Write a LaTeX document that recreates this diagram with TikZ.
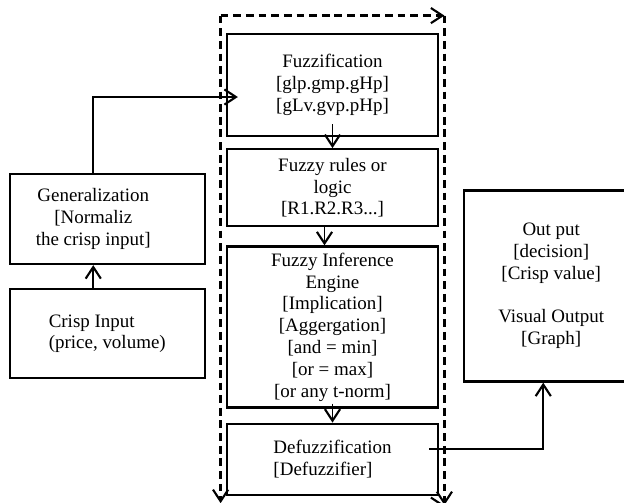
\documentclass[tikz,border=0pt]{standalone}
\usepackage{fontspec}
\setmainfont{Liberation Serif}
\usetikzlibrary{positioning,fit,arrows.meta}

\begin{document}
\begin{tikzpicture}[
    node distance=0.3cm,
    every node/.style={font=\fontsize{13.5}{15.5}\selectfont},
    block/.style={rectangle, draw, line width=1.6pt, align=center, inner sep=0pt, minimum width=5.275cm},
    sblock/.style={rectangle, draw, line width=1.6pt, align=center, inner sep=0pt, minimum width=4.875cm},
    oblock/.style={rectangle, draw, line width=1.6pt, align=center, inner sep=0pt, minimum width=4.35cm, minimum height=4.775cm},
    line/.style={draw, line width=1.3pt, -{Straight Barb[length=2.9mm,width=3.8mm,line width=1.5pt]}},
    dline/.style={draw, line width=1.7pt, dash pattern=on 5.5pt off 3.5pt, -{Straight Barb[length=2.9mm,width=3.8mm,line width=1.5pt]}}
]
\useasboundingbox (0,0) rectangle (15.6,-12.55);

% ----------------------------
% Nodes
% ----------------------------
\node[block, minimum height=2.55cm] (fuzz) at (8.3125,-2.125) {Fuzzification\\{[glp.gmp.gHp]}\\{[gLv.gvp.pHp]}};
\node[block, minimum height=1.925cm, below=0.275cm of fuzz] (rules) {Fuzzy rules or\\logic\\{[R1.R2.R3...]}};
\node[block, minimum height=4.025cm, below=0.45cm of rules] (fie) {Fuzzy Inference\\Engine\\{[Implication]}\\{[Aggergation]}\\{[and = min]}\\{[or = max]}\\{[or any t-norm]}};
\node[block, align=left, minimum height=1.775cm, below=0.35cm of fie] (defuzz) {Defuzzification\\{[Defuzzifier]}};

\node[sblock, minimum height=2.25cm, left=0.5cm of fuzz, yshift=-3.35cm] (gen)
    {\begin{tabular}{@{}c@{}}Generalization\\{[Normaliz}\\the crisp input]\end{tabular}\hspace*{0.7cm}};
\node[sblock, align=left, minimum height=2.225cm, below=0.575cm of gen] (crisp) {Crisp Input\\(price, volume)};

\node[oblock, right=0.6cm of fie, yshift=1.025cm] (output) {Out put\\{[decision]}\\{[Crisp value]}\\~\\Visual Output\\{[Graph]}};

% dashed frame round the fuzzy stages
\coordinate[above=0.2cm of fuzz.north] (ftop);
\node[fit=(ftop)(fuzz)(defuzz), inner xsep=0.125cm, inner ysep=0.225cm] (frame) {};

% ----------------------------
% Edges
% ----------------------------
\path[dline] (frame.north west) -- (frame.north east);
\path[dline] (frame.north west) -- ([yshift=0.05cm]frame.south west);
\path[dline] (frame.north east) -- (frame.south east);
\path[dline] (frame.south west) -- (frame.south east);

\path[line] ([xshift=-0.35cm]crisp.north) -- ([xshift=-0.35cm]gen.south);
\path[line] ([xshift=-0.35cm]gen.north) |- ([xshift=0.3cm,yshift=-0.3cm]fuzz.west);

\path[line] ([yshift=0.325cm]fuzz.south) -- (rules.north);
\path[line] ([xshift=-0.2cm]rules.south) -- ([xshift=-0.2cm]fie.north);
\path[line] ([yshift=0.125cm]fie.south) -- (defuzz.north);

\path[line] ([xshift=-0.25cm,yshift=0.26cm]defuzz.east) -| ([xshift=-0.2cm]output.south);

\end{tikzpicture}
\end{document}
